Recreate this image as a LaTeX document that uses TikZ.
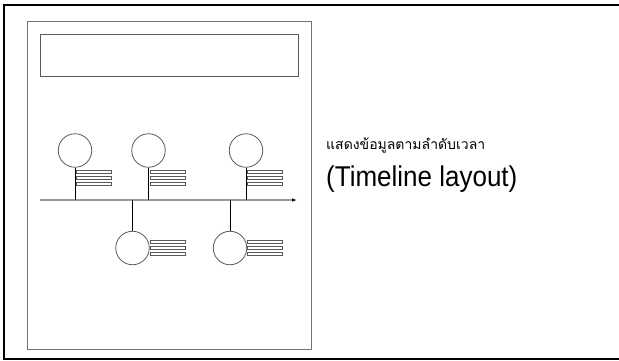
\documentclass[tikz,border=0pt]{standalone}
\usepackage{fontspec}
\setmainfont{Liberation Sans}
\newfontfamily\thaifont[Script=Thai]{Loma}
\usetikzlibrary{arrows.meta}
\tikzset{
  innerframe/.style={draw=black!55, line width=1pt},
  titlebox/.style={draw=black!65, line width=0.9pt, rectangle, minimum width=258pt, minimum height=42pt, inner sep=0pt},
  axisline/.style={draw=black!40, line width=1.4pt, -{Latex[length=5pt,width=3.5pt,color=black]}},
  event/.style={draw=black!65, line width=0.8pt, circle, minimum size=33.5pt, inner sep=0pt},
  stem/.style={draw=black, line width=0.9pt},
  bar/.style={draw=black!65, fill=white, line width=0.7pt, rectangle, minimum width=35.5pt, minimum height=3pt, inner sep=0pt}
}
\begin{document}
\begin{tikzpicture}[x=1pt,y=-1pt]
\useasboundingbox (0,0) rectangle (619,360);
\fill[white] (0,0) rectangle (619,360);
\draw[line width=2pt] (4,5) rectangle (630,359);
\draw[innerframe] (27,21.5) rectangle (311,349);
\node[titlebox] (title) at (169,55) {};
\coordinate (tl0) at (40,200);
\coordinate (tl1) at (297,200);
\draw[axisline] (tl0) -- (tl1);
% top events
\node[event] (e1) at (75,150.5) {};
\node[event] (e2) at (148.5,150.5) {};
\node[event] (e3) at (246,150.5) {};
% bottom events
\node[event] (e4) at (132.5,248) {};
\node[event] (e5) at (230,248) {};
\draw[stem] (e1.south) -- (e1.south |- tl0);
\draw[stem] (e2.south) -- (e2.south |- tl0);
\draw[stem] (e3.south) -- (e3.south |- tl0);
\draw[stem] (e4.north) -- (e4.north |- tl0);
\draw[stem] (e5.north) -- (e5.north |- tl0);
% text bars
\foreach \g/\cx/\ya in {1/93.9/171.7, 2/167.9/171.7, 3/265/171.7, 4/167.9/242, 5/265/242}{
  \foreach \k in {0,1,2}{
    \node[bar] (b\g\k) at (\cx,\ya+6*\k) {};
  }
}
\node[anchor=base west, inner sep=0pt, font=\thaifont\fontsize{14}{16}\selectfont] (th) at (326,149) {แสดงข้อมูลตามลำดับเวลา};
\node[anchor=base west, inner sep=0pt] (en) at (326,186) {\scalebox{1}[1.1]{\fontsize{26}{30}\selectfont (Timeline layout)}};
\end{tikzpicture}
\end{document}
